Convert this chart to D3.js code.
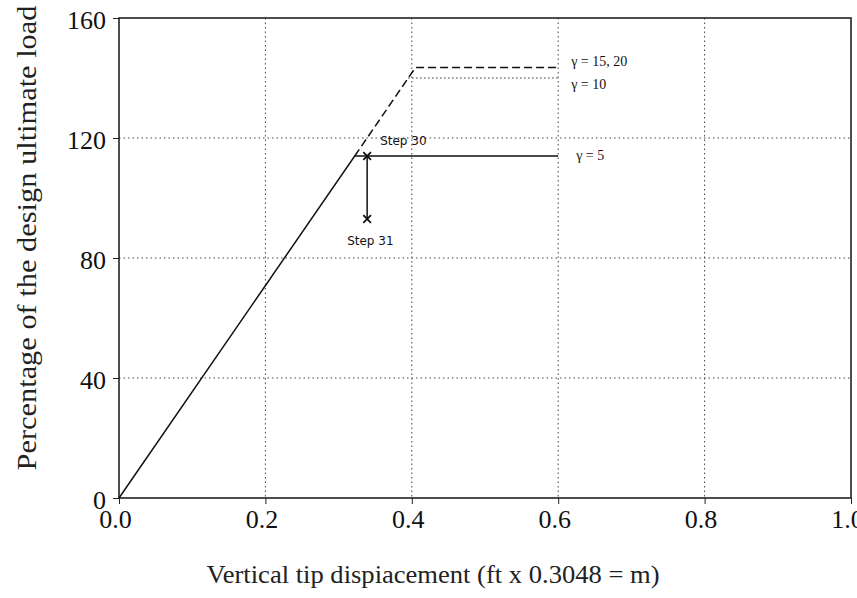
<!DOCTYPE html>
<html>
<head>
<meta charset="utf-8">
<script src="https://cdn.jsdelivr.net/npm/d3@7"></script>
<style>
  body { margin: 0; background: #fff; }
  text { font-family: "Liberation Serif", "DejaVu Serif", serif; fill: #111; }
</style>
</head>
<body>
<div id="wrapper"></div>
<script>
// Data
const xTicks = [0, 0.2, 0.4, 0.6, 0.8, 1.0];
const yTicks = [0, 40, 80, 120, 160];

// gamma = 5 (solid): linear part then the plateau
const gamma5 = [[0, 0], [0.322, 114], [0.6, 114]];
// gamma = 15, 20 (dashed)
const gamma1520 = [[0.322, 114], [0.405, 143.5], [0.6, 143.5]];
// gamma = 10 (dotted)
const gamma10 = [[0.395, 140], [0.6, 140]];

const steps = [
  { label: 'Step 30', x: 0.339, y: 114 },
  { label: 'Step 31', x: 0.339, y: 93 },
];

const curveLabels = [
  { label: 'γ = 15, 20', x: 0.6, y: 143.5, dx: 13, dy: -5 },
  { label: 'γ = 10', x: 0.6, y: 140, dx: 13, dy: 8 },
  { label: 'γ = 5', x: 0.6, y: 114, dx: 18, dy: 1 },
];

function drawChart() {
  let dimensions = {
    width: 857,
    height: 598,
    margin: { top: 18, right: 6, bottom: 100, left: 119 },
  };
  dimensions.boundedWidth =
    dimensions.width - dimensions.margin.left - dimensions.margin.right;
  dimensions.boundedHeight =
    dimensions.height - dimensions.margin.top - dimensions.margin.bottom;

  const xScale = d3.scaleLinear().domain([0, 1]).range([0, dimensions.boundedWidth]);
  const yScale = d3.scaleLinear().domain([0, 160]).range([dimensions.boundedHeight, 0]);

  const wrapper = d3
    .select('#wrapper')
    .append('svg')
    .attr('width', dimensions.width)
    .attr('height', dimensions.height);

  const bounds = wrapper
    .append('g')
    .attr('transform', `translate(${dimensions.margin.left}, ${dimensions.margin.top})`);

  // grid lines (dotted)
  const grid = bounds.append('g')
    .attr('stroke', '#444')
    .attr('stroke-width', 1)
    .attr('stroke-dasharray', '1.5,3');
  grid.selectAll('.vgrid')
    .data(xTicks.filter((d) => d > 0 && d < 1))
    .join('line')
    .attr('x1', (d) => xScale(d))
    .attr('x2', (d) => xScale(d))
    .attr('y1', 0)
    .attr('y2', dimensions.boundedHeight);
  grid.selectAll('.hgrid')
    .data(yTicks.filter((d) => d > 0 && d < 160))
    .join('line')
    .attr('x1', 0)
    .attr('x2', dimensions.boundedWidth)
    .attr('y1', (d) => yScale(d))
    .attr('y2', (d) => yScale(d));

  // axes
  const xAxis = d3.axisBottom(xScale)
    .tickValues(xTicks)
    .tickFormat(d3.format('.1f'))
    .tickSize(6)
    .tickPadding(6);
  const xAxisGroup = bounds.append('g')
    .attr('transform', `translate(0, ${dimensions.boundedHeight})`)
    .call(xAxis);

  const yAxis = d3.axisLeft(yScale)
    .tickValues(yTicks)
    .tickSize(6)
    .tickPadding(7);
  const yAxisGroup = bounds.append('g').call(yAxis);

  [xAxisGroup, yAxisGroup].forEach((g) => {
    g.select('.domain').remove();
    g.selectAll('line').attr('stroke', '#222');
    g.selectAll('text')
      .attr('fill', '#111')
      .style('font-family', '"Liberation Serif", serif')
      .style('font-size', '26px');
  });
  xAxisGroup.selectAll('text').attr('dx', '-4');
  yAxisGroup.selectAll('text').attr('dy', '0.4em');

  // frame
  bounds.append('rect')
    .attr('width', dimensions.boundedWidth)
    .attr('height', dimensions.boundedHeight)
    .attr('fill', 'none')
    .attr('stroke', '#222')
    .attr('stroke-width', 1.6);

  // curves
  const lineGenerator = d3.line()
    .x((d) => xScale(d[0]))
    .y((d) => yScale(d[1]));

  bounds.append('path')
    .attr('d', lineGenerator(gamma1520))
    .attr('fill', 'none')
    .attr('stroke', '#111')
    .attr('stroke-width', 1.5)
    .attr('stroke-dasharray', '8,4');

  bounds.append('path')
    .attr('d', lineGenerator(gamma10))
    .attr('fill', 'none')
    .attr('stroke', '#333')
    .attr('stroke-width', 1.2)
    .attr('stroke-dasharray', '1.5,2.5');

  bounds.append('path')
    .attr('d', lineGenerator(gamma5))
    .attr('fill', 'none')
    .attr('stroke', '#111')
    .attr('stroke-width', 1.5);

  // step 30 -> step 31 drop
  bounds.append('path')
    .attr('d', lineGenerator(steps.map((d) => [d.x, d.y])))
    .attr('fill', 'none')
    .attr('stroke', '#111')
    .attr('stroke-width', 1.5);

  bounds.selectAll('.step-marker')
    .data(steps)
    .join('path')
    .attr('transform', (d) => `translate(${xScale(d.x)}, ${yScale(d.y)})`)
    .attr('d', d3.symbol(d3.symbolX, 40))
    .attr('fill', 'none')
    .attr('stroke', '#111')
    .attr('stroke-width', 1.8);

  // step labels
  bounds.append('text')
    .attr('x', xScale(steps[0].x) + 13)
    .attr('y', yScale(steps[0].y) - 11)
    .style('font-family', '"DejaVu Sans", sans-serif')
    .style('font-size', '12px')
    .text(steps[0].label);
  bounds.append('text')
    .attr('x', xScale(steps[1].x) - 20)
    .attr('y', yScale(steps[1].y) + 26)
    .style('font-family', '"DejaVu Sans", sans-serif')
    .style('font-size', '12px')
    .text(steps[1].label);

  // curve labels
  bounds.selectAll('.curve-label')
    .data(curveLabels)
    .join('text')
    .attr('x', (d) => xScale(d.x) + d.dx)
    .attr('y', (d) => yScale(d.y) + d.dy)
    .attr('dominant-baseline', 'middle')
    .style('font-size', '14px')
    .text((d) => d.label);

  // axis titles
  wrapper.append('text')
    .attr('x', 433)
    .attr('y', 583)
    .attr('text-anchor', 'middle')
    .attr('textLength', 453)
    .attr('lengthAdjust', 'spacingAndGlyphs')
    .style('font-size', '25px')
    .style('fill', '#222')
    .text('Vertical tip dispiacement (ft x 0.3048 = m)');

  wrapper.append('text')
    .attr('transform', 'translate(36, 238) rotate(-90)')
    .attr('text-anchor', 'middle')
    .attr('textLength', 465)
    .attr('lengthAdjust', 'spacingAndGlyphs')
    .style('font-size', '27px')
    .style('fill', '#222')
    .text('Percentage of the design ultimate load');
}
drawChart();
</script>
</body>
</html>
